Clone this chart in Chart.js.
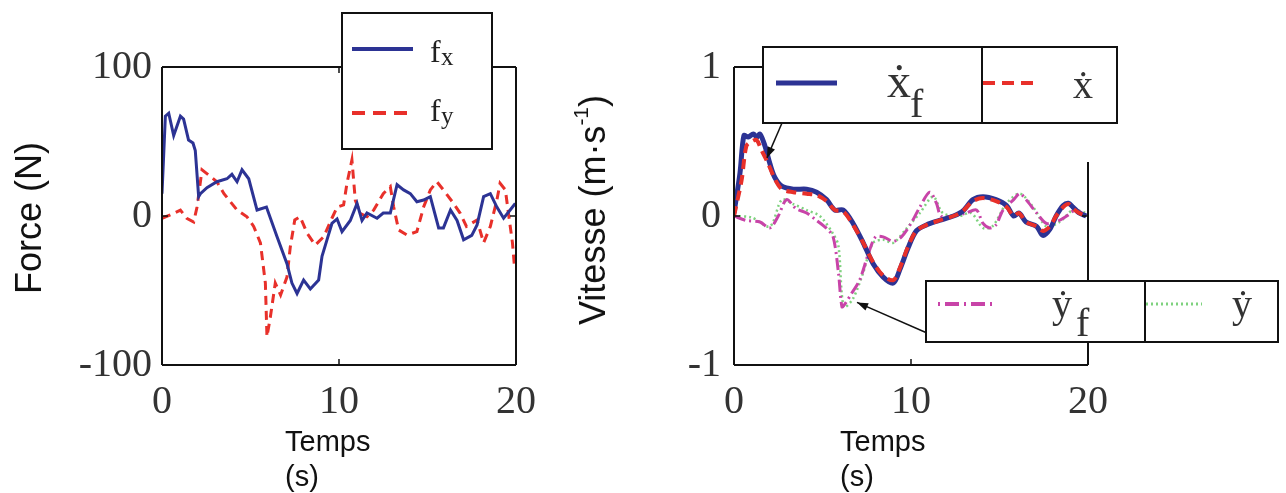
<!DOCTYPE html>
<html><head><meta charset="utf-8">
<script src="https://cdn.jsdelivr.net/npm/chart.js@4/dist/chart.umd.min.js"></script>
<style>
body{margin:0;background:#fff;width:1286px;height:493px;overflow:hidden;position:relative;font-family:"Liberation Sans",Arial,sans-serif;color:#111}
canvas{position:absolute;top:0}
#c1{left:0}
#c2{left:560px}
.yt{position:absolute;transform:translate(-50%,-50%) rotate(-90deg);white-space:nowrap;font-size:36px;line-height:40px}
.xt{position:absolute;font-size:29px;line-height:35px}
sup{font-size:58%;vertical-align:0.8em;line-height:0}
</style>
</head><body>
<canvas id="c1" width="560" height="493"></canvas>
<canvas id="c2" width="726" height="493"></canvas>
<div class="yt" style="left:29px;top:218px">Force (N)</div>
<div class="yt" style="left:593px;top:210px">Vitesse (m·s<sup>-1</sup>)</div>
<div class="xt" style="left:285px;top:424px">Temps<br>(s)</div>
<div class="xt" style="left:840px;top:424px">Temps<br>(s)</div>
<script>
// ---------- data (left chart: force) ----------
const timeTicks = [0, 10, 20];
const forceTicks = [-100, 0, 100];
const speedTicks = [-1, 0, 1];

const fxT = [0,0.19,0.38,0.66,1.04,1.22,1.5,1.75,1.88,2.07,2.17,2.54,3.1,3.67,3.95,4.24,4.52,4.9,5.37,5.9,6.5,7.06,7.34,7.63,8.0,8.38,8.85,9.04,9.32,9.6,9.89,10.17,10.64,11.02,11.3,11.58,12.15,12.5,12.9,13.28,13.65,14.03,14.4,14.78,15.16,15.63,15.9,16.3,16.67,17.04,17.5,17.8,18.17,18.55,18.92,19.3,19.67,19.96];
const fxV = [15,67,69,54,67,65,51,49,44,13,15,19,23,25,28,23,31,25,4,6,-14,-32,-45,-52,-43,-49,-43,-27,-16,-5,-2,-10.5,-3,8.5,-3,2,-1.5,2,2,21,17.5,15,9.6,10.7,13,-8,-8,4,-3,-16,-13,-6,13,15,6,-1.5,4,8.5];

const fyT = [0,0.47,1.04,1.4,1.79,1.98,2.26,2.64,3.1,3.5,3.86,4.24,4.8,5.18,5.56,5.84,5.93,6.12,6.4,6.7,7.06,7.25,7.5,7.8,8.2,8.66,9.13,9.6,9.9,10.26,10.45,10.73,10.92,11.2,11.58,11.96,12.5,12.9,13.09,13.37,13.84,14.4,14.78,15.16,15.53,15.9,16.4,16.85,17.2,17.8,18.17,18.55,18.92,19.1,19.4,19.6,19.8,19.9];
const fyV = [-1.5,0.7,4,-1.5,-4,6,31,27.5,23,15,9.6,4,-0.5,-7,-18,-45,-81,-68,-45,-53,-41,-20.6,-2.7,-0.5,-11.6,-19.5,-14,-1.5,6,7.4,22,37.6,10.7,1.8,-0.5,4,15,19.7,6,-9.4,-12.8,-10.5,6,17.5,23,17.5,9.6,1.8,-7,-2.7,-18,-7,10.7,22,17.5,-0.5,-18,-32];

// ---------- data (right chart: speed) ----------
const xfT = [0,0.34,0.56,0.8,1.09,1.3,1.47,1.75,2.03,2.3,2.7,3.35,4.1,4.67,5.23,5.7,6.17,6.73,7.3,7.86,8.43,9.0,9.37,9.85,10.3,10.87,11.6,12.4,12.9,13.5,14.07,14.8,15.4,15.8,16.1,16.5,17.1,17.45,17.84,18.2,18.6,18.9,19.15,19.5,19.9];
const xfV = [0.02,0.29,0.54,0.53,0.55,0.53,0.55,0.47,0.35,0.26,0.2,0.18,0.18,0.16,0.11,0.04,0.04,-0.05,-0.18,-0.32,-0.41,-0.45,-0.36,-0.21,-0.1,-0.06,-0.03,0.0,0.03,0.11,0.13,0.11,0.07,0.0,0.02,-0.04,-0.07,-0.13,-0.09,0.0,0.07,0.085,0.06,0.02,0.0];

const xT = [0,0.43,0.7,1.0,1.28,1.56,1.9,2.3,2.7,3.35,4.1,4.67,5.23,5.7,6.17,6.73,7.3,7.86,8.43,9.0,9.37,9.85,10.3,10.87,11.6,12.4,12.9,13.5,14.07,14.8,15.4,15.8,16.1,16.5,17.1,17.45,17.84,18.2,18.6,18.9,19.15,19.5,19.9];
const xV = [0,0.24,0.47,0.5,0.51,0.44,0.36,0.25,0.18,0.16,0.15,0.14,0.1,0.04,0.03,-0.06,-0.18,-0.31,-0.40,-0.43,-0.35,-0.2,-0.1,-0.06,-0.03,0.0,0.03,0.1,0.12,0.1,0.06,0.0,0.02,-0.04,-0.07,-0.1,-0.07,0.0,0.06,0.08,0.05,0.02,0.0];

const yfT = [0,0.7,1.47,2.03,2.5,2.97,3.5,4.1,4.67,5.2,5.6,5.9,6.1,6.27,6.64,7.1,7.6,8.0,8.43,9.0,9.46,10.0,10.5,11.06,11.44,11.7,12.4,13.1,13.7,14.07,14.45,14.8,15.2,15.8,16.15,16.5,17.1,17.65,18.2,18.8,19.3,19.9];
const yfV = [0,-0.03,-0.04,-0.08,0,0.11,0.05,0.02,-0.03,-0.08,-0.14,-0.38,-0.61,-0.59,-0.52,-0.43,-0.25,-0.14,-0.14,-0.17,-0.14,-0.05,0.06,0.16,0.085,0,0,0.02,0.04,-0.05,-0.08,-0.06,0.04,0.11,0.15,0.11,0.02,-0.05,-0.04,0,0.04,0];

const yT = [0,1.0,2.03,2.7,3.35,4.1,4.85,5.6,5.9,6.2,6.7,7.3,7.86,8.43,9.0,9.7,10.5,11.25,11.8,12.7,13.4,14.07,14.6,15.4,16.15,16.9,17.65,18.4,19.15,19.9];
const yV = [0,-0.01,-0.07,0.11,0.08,0.04,0,-0.12,-0.2,-0.61,-0.56,-0.38,-0.18,-0.16,-0.18,-0.09,0.02,0.13,0.02,0,0.02,-0.08,-0.07,0.085,0.15,0.06,-0.07,-0.04,0.04,0.02];

// ---------- styling ----------
const SERIF = '"Liberation Serif","DejaVu Serif",serif';
const BLUE = '#2c3394', RED = '#e8302a', MAG = '#c844a8', GREEN = '#7fd27f';
const pts = (t, v) => t.map((x, i) => ({x, y: v[i]}));

function line(ctx, x1, y1, x2, y2) { ctx.beginPath(); ctx.moveTo(x1, y1); ctx.lineTo(x2, y2); ctx.stroke(); }
function arrow(ctx, x1, y1, x2, y2) {
  ctx.save(); ctx.strokeStyle = '#111'; ctx.fillStyle = '#111'; ctx.lineWidth = 1.5; ctx.setLineDash([]);
  line(ctx, x1, y1, x2, y2);
  const a = Math.atan2(y2 - y1, x2 - x1), L = 11, W = 4;
  ctx.beginPath(); ctx.moveTo(x2, y2);
  ctx.lineTo(x2 - L * Math.cos(a) + W * Math.sin(a), y2 - L * Math.sin(a) - W * Math.cos(a));
  ctx.lineTo(x2 - L * Math.cos(a) - W * Math.sin(a), y2 - L * Math.sin(a) + W * Math.cos(a));
  ctx.closePath(); ctx.fill(); ctx.restore();
}
function txt(ctx, s, x, y, size) { ctx.font = size + 'px ' + SERIF; ctx.fillText(s, x, y); }

function scaleOpts(min, max, ticks, pad, fitProp, fitVal) {
  return {
    type: 'linear', min, max,
    afterBuildTicks: s => { s.ticks = ticks.map(v => ({value: v})); },
    ticks: {font: {family: SERIF, size: 40}, color: '#333', padding: pad, maxRotation: 0, autoSkip: false},
    grid: {display: false, drawTicks: false},
    border: {display: false},
    afterFit: s => { s[fitProp] = fitVal; }
  };
}

function baseFrame(chart, rightTop) {
  const {ctx, chartArea: a, scales: {x, y}} = chart;
  ctx.save();
  ctx.strokeStyle = '#111'; ctx.lineWidth = 2; ctx.setLineDash([]);
  line(ctx, a.left, a.top, a.left, a.bottom);
  line(ctx, a.left, a.bottom, a.right, a.bottom);
  line(ctx, a.left, a.top, a.right, a.top);
  line(ctx, a.right, rightTop, a.right, a.bottom);
  ctx.lineWidth = 1.5;
  const px = x.getPixelForValue(10);
  line(ctx, px, a.bottom, px, a.bottom - 6); line(ctx, px, a.top, px, a.top + 6);
  const py = y.getPixelForValue(0);
  line(ctx, a.left, py, a.left + 6, py); line(ctx, a.right, py, a.right - 6, py);
  ctx.restore();
}

// ---------- left chart ----------
new Chart(document.getElementById('c1'), {
  type: 'line',
  data: {datasets: [
    {data: pts(fxT, fxV), borderColor: BLUE, borderWidth: 3, pointRadius: 0, tension: 0},
    {data: pts(fyT, fyV), borderColor: RED, borderWidth: 3, borderDash: [9, 6], pointRadius: 0, tension: 0}
  ]},
  options: {
    responsive: false, animation: false, devicePixelRatio: 1,
    layout: {padding: {left: 0, top: 67, right: 44, bottom: 0}},
    plugins: {legend: {display: false}, tooltip: {enabled: false}},
    scales: {
      x: scaleOpts(0, 20, timeTicks, 13, 'height', 128),
      y: scaleOpts(-100, 100, forceTicks, 10, 'width', 162)
    }
  },
  plugins: [{
    id: 'frameLeft',
    afterDraw(chart) {
      const ctx = chart.ctx, a = chart.chartArea;
      baseFrame(chart, a.top);
      ctx.save();
      ctx.fillStyle = '#fff'; ctx.strokeStyle = '#111'; ctx.lineWidth = 2;
      ctx.fillRect(342, 13, 150, 136); ctx.strokeRect(342, 13, 150, 136);
      ctx.strokeStyle = BLUE; ctx.lineWidth = 4; line(ctx, 352, 49, 413, 49);
      ctx.strokeStyle = RED; ctx.setLineDash([13, 8]); line(ctx, 352, 113, 413, 113);
      ctx.fillStyle = '#222';
      txt(ctx, 'f', 430, 62, 32); txt(ctx, 'x', 441, 65, 25);
      txt(ctx, 'f', 430, 121, 32); txt(ctx, 'y', 441, 124, 25);
      ctx.restore();
    }
  }]
});

// ---------- right chart ----------
new Chart(document.getElementById('c2'), {
  type: 'line',
  data: {datasets: [
    {data: pts(xT, xV), borderColor: RED, borderWidth: 4, borderDash: [10, 6], pointRadius: 0, tension: 0.3},
    {data: pts(xfT, xfV), borderColor: BLUE, borderWidth: 5, pointRadius: 0, tension: 0.3},
    {data: pts(yfT, yfV), borderColor: MAG, borderWidth: 3, borderDash: [12, 4, 2, 4], pointRadius: 0, tension: 0.3},
    {data: pts(yT, yV), borderColor: GREEN, borderWidth: 2.5, borderDash: [2, 3], pointRadius: 0, tension: 0.3}
  ]},
  options: {
    responsive: false, animation: false, devicePixelRatio: 1,
    layout: {padding: {left: 0, top: 67, right: 198, bottom: 0}},
    plugins: {legend: {display: false}, tooltip: {enabled: false}},
    scales: {
      x: scaleOpts(0, 20, timeTicks, 13, 'height', 128),
      y: scaleOpts(-1, 1, speedTicks, 13, 'width', 174)
    }
  },
  plugins: [{
    id: 'frameRight',
    afterDraw(chart) {
      const {ctx, scales: {x, y}} = chart;
      baseFrame(chart, 162);
      arrow(ctx, 782 - 560, 123, x.getPixelForValue(1.86), y.getPixelForValue(0.39));
      arrow(ctx, 927 - 560, 333, x.getPixelForValue(6.95), y.getPixelForValue(-0.58));
      ctx.save();
      ctx.fillStyle = '#fff'; ctx.strokeStyle = '#111'; ctx.lineWidth = 2;
      ctx.fillRect(203, 47, 354, 76); ctx.strokeRect(203, 47, 354, 76);
      line(ctx, 422, 47, 422, 123);
      ctx.strokeStyle = BLUE; ctx.lineWidth = 5; line(ctx, 216, 83, 277, 83);
      ctx.strokeStyle = RED; ctx.lineWidth = 4; ctx.setLineDash([12, 7]); line(ctx, 423, 83, 480, 83);
      ctx.setLineDash([]);
      ctx.fillStyle = '#333';
      txt(ctx, '\u1E8B', 327, 97, 48); txt(ctx, 'f', 350, 117, 40);
      txt(ctx, '\u1E8B', 513, 98, 40);
      ctx.fillStyle = '#fff'; ctx.strokeStyle = '#111'; ctx.lineWidth = 2;
      ctx.fillRect(366, 281, 352, 61); ctx.strokeRect(366, 281, 352, 61);
      line(ctx, 585, 281, 585, 342);
      ctx.strokeStyle = MAG; ctx.lineWidth = 4; ctx.setLineDash([2, 5, 14, 5]); line(ctx, 378, 304, 436, 304);
      ctx.strokeStyle = GREEN; ctx.lineWidth = 3; ctx.setLineDash([2, 3]); line(ctx, 586, 304, 642, 304);
      ctx.setLineDash([]);
      ctx.fillStyle = '#333';
      txt(ctx, '\u1E8F', 492, 317, 40); txt(ctx, 'f', 516, 336, 40);
      txt(ctx, '\u1E8F', 672, 317, 40);
      ctx.restore();
    }
  }]
});
</script>
</body></html>
